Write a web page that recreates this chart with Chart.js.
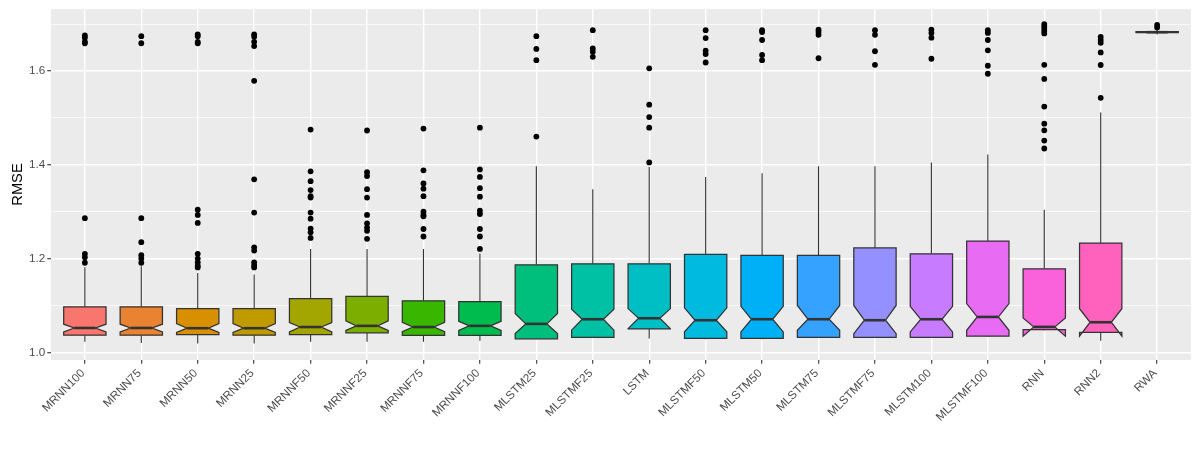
<!DOCTYPE html>
<html>
<head>
<meta charset="utf-8">
<script src="https://cdn.jsdelivr.net/npm/chart.js@4.4.1/dist/chart.umd.min.js"></script>
<style>
html,body{margin:0;padding:0;background:#ffffff;}
#wrap{width:1200px;height:450px;position:relative;}
</style>
</head>
<body>
<div id="wrap"><canvas id="c"></canvas></div>
<script>
// ---------- data ----------
const categories = ["MRNN100","MRNN75","MRNN50","MRNN25","MRNNF50","MRNNF25","MRNNF75","MRNNF100",
  "MLSTM25","MLSTMF25","LSTM","MLSTMF50","MLSTM50","MLSTM75","MLSTMF75","MLSTM100","MLSTMF100",
  "RNN","RNN2","RWA"];

const whiskerLo = [1.0225,1.0200,1.0190,1.0190,1.0225,1.0225,1.0225,1.0246,1.0280,1.0310,1.0297,1.0280,1.0280,1.0310,1.0310,1.0310,1.0330,1.0470,1.0246,1.6775];
const q1        = [1.0367,1.0367,1.0380,1.0367,1.0380,1.0416,1.0360,1.0360,1.0290,1.0320,1.0500,1.0297,1.0297,1.0320,1.0320,1.0320,1.0346,1.0487,1.0424,1.6815];
const median    = [1.0520,1.0520,1.0515,1.0515,1.0540,1.0565,1.0540,1.0565,1.0607,1.0706,1.0727,1.0685,1.0706,1.0706,1.0685,1.0706,1.0755,1.0543,1.0642,1.6826];
const q3        = [1.0970,1.0970,1.0930,1.0930,1.1145,1.1194,1.1100,1.1080,1.1866,1.1887,1.1887,1.2090,1.2070,1.2070,1.2226,1.2100,1.2374,1.1780,1.2330,1.6838];
const whiskerHi = [1.1815,1.1836,1.1690,1.1660,1.2205,1.2205,1.2205,1.2110,1.3970,1.3477,1.3950,1.3738,1.3816,1.3970,1.3970,1.4050,1.4219,1.3040,1.5116,1.6880];
const notchLo   = [1.0437,1.0437,1.0425,1.0425,1.0437,1.0470,1.0440,1.0470,1.0400,1.0473,1.0505,1.0437,1.0437,1.0470,1.0400,1.0437,1.0470,1.0346,1.0346,1.6821];
const notchHi   = [1.0600,1.0600,1.0615,1.0615,1.0636,1.0670,1.0640,1.0660,1.0827,1.0918,1.0933,1.0950,1.0982,1.1000,1.1000,1.0980,1.1040,1.0734,1.0930,1.6831];

const outliers = [
  [1.676,1.671,1.662,1.659,1.286,1.210,1.203,1.191],
  [1.674,1.659,1.286,1.235,1.207,1.200,1.191],
  [1.678,1.674,1.662,1.659,1.304,1.293,1.276,1.210,1.200,1.192,1.185,1.181],
  [1.678,1.673,1.662,1.653,1.579,1.369,1.298,1.224,1.217,1.192,1.186,1.181],
  [1.475,1.386,1.365,1.346,1.333,1.330,1.298,1.285,1.264,1.256,1.244],
  [1.473,1.384,1.376,1.348,1.330,1.293,1.275,1.266,1.259,1.242],
  [1.477,1.388,1.360,1.349,1.333,1.300,1.293,1.290,1.263,1.247],
  [1.479,1.390,1.374,1.350,1.332,1.302,1.295,1.263,1.247,1.2205],
  [1.674,1.647,1.623,1.460],
  [1.687,1.648,1.641,1.630],
  [1.6055,1.528,1.5016,1.479,1.405],
  [1.687,1.670,1.643,1.636,1.618],
  [1.687,1.683,1.666,1.634,1.623],
  [1.688,1.683,1.677,1.627],
  [1.687,1.677,1.642,1.613],
  [1.688,1.681,1.671,1.626],
  [1.687,1.681,1.666,1.644,1.611,1.594],
  [1.700,1.695,1.690,1.685,1.680,1.613,1.583,1.524,1.4876,1.4734,1.4516,1.4346],
  [1.6727,1.666,1.660,1.6394,1.6127,1.5427],
  [1.698,1.6925]
];

const fillColors = ["#F8766D","#EA8331","#D89000","#C09B00","#A3A500","#7CAE00","#39B600","#00BB4E",
  "#00BF7D","#00C1A3","#00BFC4","#00BAE0","#00B0F6","#35A2FF","#9590FF","#C77CFF","#E76BF3",
  "#FA62DB","#FF62BC","#FF6C91"];

const yMajorTicks = [1.0,1.2,1.4,1.6];
const yMinorTicks = [1.1,1.3,1.5,1.7];
const yRange = [0.9837,1.732];
const yTitle = "RMSE";

// ---------- styling ----------
const BOX_WIDTH = 0.75, NOTCH_WIDTH = 0.5;
const LINE_COL = "#333333";
const TEXT_COL = "#4D4D4D";
const FONT = "'Liberation Sans', Arial, sans-serif";

const boxPlugin = {
  id: 'ggBoxes',
  beforeDraw(chart) {
    const {ctx, chartArea: a} = chart;
    ctx.save();
    ctx.fillStyle = '#EBEBEB';
    ctx.fillRect(a.left, a.top, a.right - a.left, a.bottom - a.top);
    ctx.restore();
  },
  beforeDatasetsDraw(chart) {
    const {ctx, chartArea: a, scales: {x, y}} = chart;
    ctx.save();
    ctx.beginPath();
    ctx.rect(a.left, a.top, a.right - a.left, a.bottom - a.top);
    ctx.clip();
    categories.forEach((c, i) => {
      const xc = x.getPixelForValue(i);
      const xl = x.getPixelForValue(i - BOX_WIDTH / 2);
      const xr = x.getPixelForValue(i + BOX_WIDTH / 2);
      const ind = (1 - NOTCH_WIDTH) * (xr - xl) / 2;
      const Y = v => y.getPixelForValue(v);
      // whiskers
      ctx.strokeStyle = LINE_COL;
      ctx.lineWidth = 1.1;
      ctx.beginPath();
      ctx.moveTo(xc, Y(whiskerHi[i])); ctx.lineTo(xc, Y(q3[i]));
      ctx.moveTo(xc, Y(q1[i])); ctx.lineTo(xc, Y(whiskerLo[i]));
      ctx.stroke();
      // notched box
      ctx.beginPath();
      ctx.moveTo(xl, Y(q3[i]));
      ctx.lineTo(xl, Y(notchHi[i]));
      ctx.lineTo(xl + ind, Y(median[i]));
      ctx.lineTo(xl, Y(notchLo[i]));
      ctx.lineTo(xl, Y(q1[i]));
      ctx.lineTo(xr, Y(q1[i]));
      ctx.lineTo(xr, Y(notchLo[i]));
      ctx.lineTo(xr - ind, Y(median[i]));
      ctx.lineTo(xr, Y(notchHi[i]));
      ctx.lineTo(xr, Y(q3[i]));
      ctx.closePath();
      ctx.fillStyle = fillColors[i];
      ctx.fill();
      ctx.lineWidth = 1.25;
      ctx.lineJoin = 'miter';
      ctx.stroke();
      // median
      ctx.lineWidth = 2.6;
      ctx.beginPath();
      ctx.moveTo(xl + ind, Y(median[i]));
      ctx.lineTo(xr - ind, Y(median[i]));
      ctx.stroke();
    });
    ctx.restore();
  }
};

const outlierPoints = outliers.flatMap((arr, i) => arr.map(v => ({x: i, y: v})));
const yAllTicks = yMajorTicks.concat(yMinorTicks).sort((a, b) => a - b);
const isMajor = v => yMajorTicks.indexOf(v) !== -1;

new Chart(document.getElementById('c'), {
  type: 'scatter',
  data: {
    datasets: [{
      data: outlierPoints,
      pointRadius: 2.9,
      pointHoverRadius: 2.9,
      backgroundColor: '#000000',
      borderWidth: 0
    }]
  },
  options: {
    responsive: true,
    maintainAspectRatio: false,
    animation: false,
    events: [],
    layout: {padding: {top: 7, right: 9, left: 0, bottom: 0}},
    plugins: {legend: {display: false}, tooltip: {enabled: false}},
    scales: {
      x: {
        type: 'linear',
        bounds: 'data',
        min: -0.6,
        max: categories.length - 1 + 0.6,
        afterBuildTicks: s => { s.ticks = categories.map((_, i) => ({value: i})); },
        afterFit: s => { s.height = 90; },
        border: {display: false},
        grid: {color: '#FFFFFF', lineWidth: 1.42, tickColor: LINE_COL, tickLength: 3.7, tickWidth: 1.1},
        ticks: {
          autoSkip: false, minRotation: 45, maxRotation: 45,
          padding: 2.8, labelOffset: -1.8,
          color: TEXT_COL,
          font: {family: FONT, size: 11.7},
          callback: v => categories[v]
        }
      },
      y: {
        type: 'linear',
        bounds: 'data',
        min: yRange[0],
        max: yRange[1],
        afterBuildTicks: s => { s.ticks = yAllTicks.map(v => ({value: v})); },
        afterFit: s => { s.width = 51; },
        border: {display: false},
        grid: {
          color: '#FFFFFF',
          lineWidth: c => isMajor(c.tick.value) ? 1.42 : 0.71,
          tickColor: c => isMajor(c.tick.value) ? LINE_COL : 'rgba(0,0,0,0)',
          tickLength: 3.7, tickWidth: 1.1
        },
        ticks: {
          padding: 2,
          color: TEXT_COL,
          font: {family: FONT, size: 11.7},
          callback: v => isMajor(v) ? v.toFixed(1) : ''
        },
        title: {
          display: true, text: yTitle, color: '#000000',
          font: {family: FONT, size: 14.7},
          padding: {top: 9.5, bottom: 0}
        }
      }
    }
  },
  plugins: [boxPlugin]
});
</script>
</body>
</html>
